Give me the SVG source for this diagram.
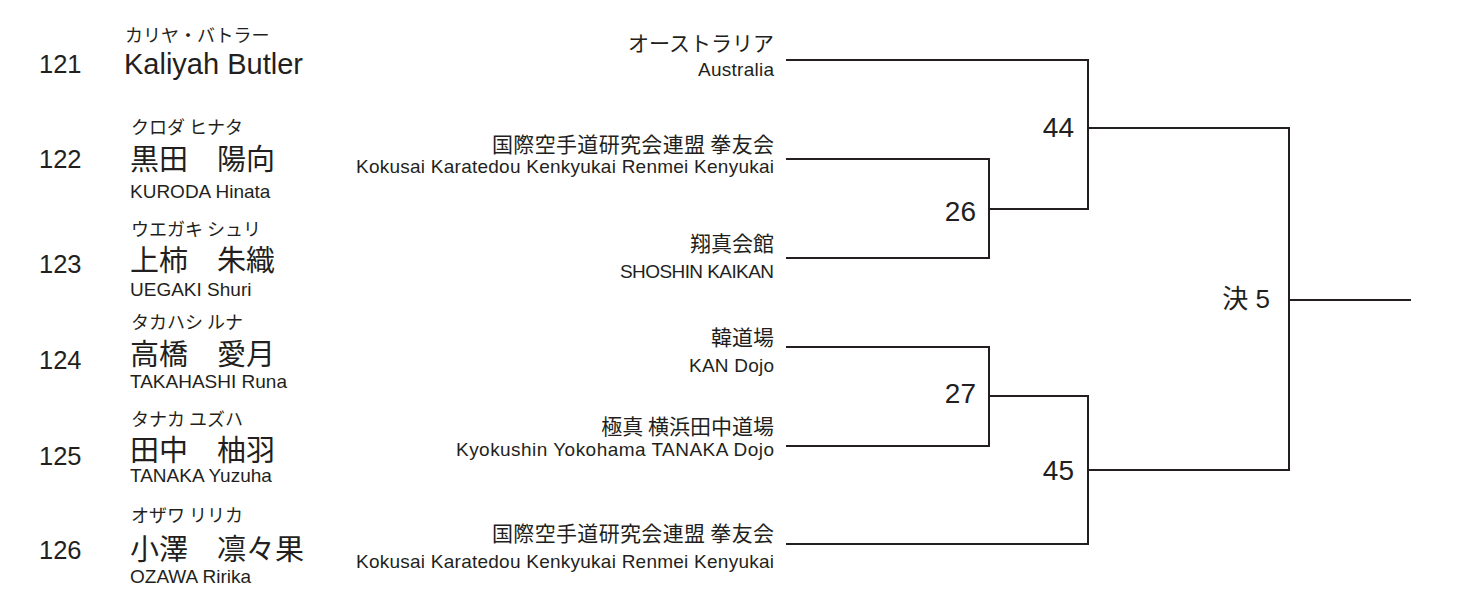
<svg xmlns="http://www.w3.org/2000/svg" width="1461" height="607" viewBox="0 0 1461 607">
<style>
text{fill:#231f20;font-family:"Liberation Sans","Noto Sans CJK JP",sans-serif}
.num{font-size:25.5px}
.kana{font-size:18px;font-family:"Noto Sans CJK JP","Liberation Sans",sans-serif}
.kanji{font-size:29px;font-family:"Noto Sans CJK JP","Liberation Sans",sans-serif}
.bigrom{font-size:29px}
.rom{font-size:19px}
.tjp{font-size:21px;font-family:"Noto Sans CJK JP","Liberation Sans",sans-serif;text-anchor:end}
.ten{font-size:19px;text-anchor:end}
.match{font-size:28px;text-anchor:end}
.ln{fill:none;stroke:#231f20;stroke-width:2;stroke-linecap:square}
</style>
<rect width="1461" height="607" fill="#ffffff"/>

<g id="player-121">
<text class="num" x="39" y="73">121</text>
<text class="kana" x="125" y="42">カリヤ・バトラー</text>
<text class="bigrom" x="124" y="74">Kaliyah Butler</text>
</g>
<g id="player-122">
<text class="num" x="39" y="168">122</text>
<text class="kana" x="131" y="134">クロダ ヒナタ</text>
<text class="kanji" x="130" y="170">黒田　陽向</text>
<text class="rom" x="130" y="198">KURODA Hinata</text>
</g>
<g id="player-123">
<text class="num" x="39" y="273">123</text>
<text class="kana" x="131" y="236">ウエガキ シュリ</text>
<text class="kanji" x="130" y="271">上柿　朱織</text>
<text class="rom" x="130" y="296">UEGAKI Shuri</text>
</g>
<g id="player-124">
<text class="num" x="39" y="369">124</text>
<text class="kana" x="131" y="329">タカハシ ルナ</text>
<text class="kanji" x="130" y="365">高橋　愛月</text>
<text class="rom" x="130" y="388">TAKAHASHI Runa</text>
</g>
<g id="player-125">
<text class="num" x="39" y="465">125</text>
<text class="kana" x="131" y="426">タナカ ユズハ</text>
<text class="kanji" x="130" y="461">田中　柚羽</text>
<text class="rom" x="130" y="482">TANAKA Yuzuha</text>
</g>
<g id="player-126">
<text class="num" x="39" y="559">126</text>
<text class="kana" x="131" y="522">オザワ リリカ</text>
<text class="kanji" x="130" y="560">小澤　凛々果</text>
<text class="rom" x="130" y="583">OZAWA Ririka</text>
</g>

<g id="team-121">
<text class="tjp" x="774" y="51">オーストラリア</text>
<text class="ten" x="774" y="76" textLength="76" lengthAdjust="spacing">Australia</text>
</g>
<g id="team-122">
<text class="tjp" x="774" y="152" textLength="282" lengthAdjust="spacing">国際空手道研究会連盟 拳友会</text>
<text class="ten" x="774" y="173" textLength="418" lengthAdjust="spacing">Kokusai Karatedou Kenkyukai Renmei Kenyukai</text>
</g>
<g id="team-123">
<text class="tjp" x="774" y="251">翔真会館</text>
<text class="ten" x="774" y="278" textLength="154" lengthAdjust="spacing">SHOSHIN KAIKAN</text>
</g>
<g id="team-124">
<text class="tjp" x="774" y="345">韓道場</text>
<text class="ten" x="774" y="372" textLength="85" lengthAdjust="spacing">KAN Dojo</text>
</g>
<g id="team-125">
<text class="tjp" x="774" y="434">極真 横浜田中道場</text>
<text class="ten" x="774" y="456" textLength="318" lengthAdjust="spacing">Kyokushin Yokohama TANAKA Dojo</text>
</g>
<g id="team-126">
<text class="tjp" x="774" y="541" textLength="282" lengthAdjust="spacing">国際空手道研究会連盟 拳友会</text>
<text class="ten" x="774" y="568" textLength="418" lengthAdjust="spacing">Kokusai Karatedou Kenkyukai Renmei Kenyukai</text>
</g>

<g id="match-26"><text class="match" x="976" y="221">26</text></g>
<g id="match-27"><text class="match" x="976" y="403">27</text></g>
<g id="match-44"><text class="match" x="1074" y="137">44</text></g>
<g id="match-45"><text class="match" x="1074" y="480">45</text></g>
<g id="match-final5"><text class="match" x="1270" y="308" style="font-size:26px">決 5</text></g>

<g id="connectors">
<path class="ln" d="M787 60H1088V209H989"/>
<path class="ln" d="M787 159H989V258H787"/>
<path class="ln" d="M787 347H989V446H787"/>
<path class="ln" d="M989 396H1088V544H787"/>
<path class="ln" d="M1088 128H1289V470H1088"/>
<path class="ln" d="M1289 300H1410"/>
</g>
</svg>
